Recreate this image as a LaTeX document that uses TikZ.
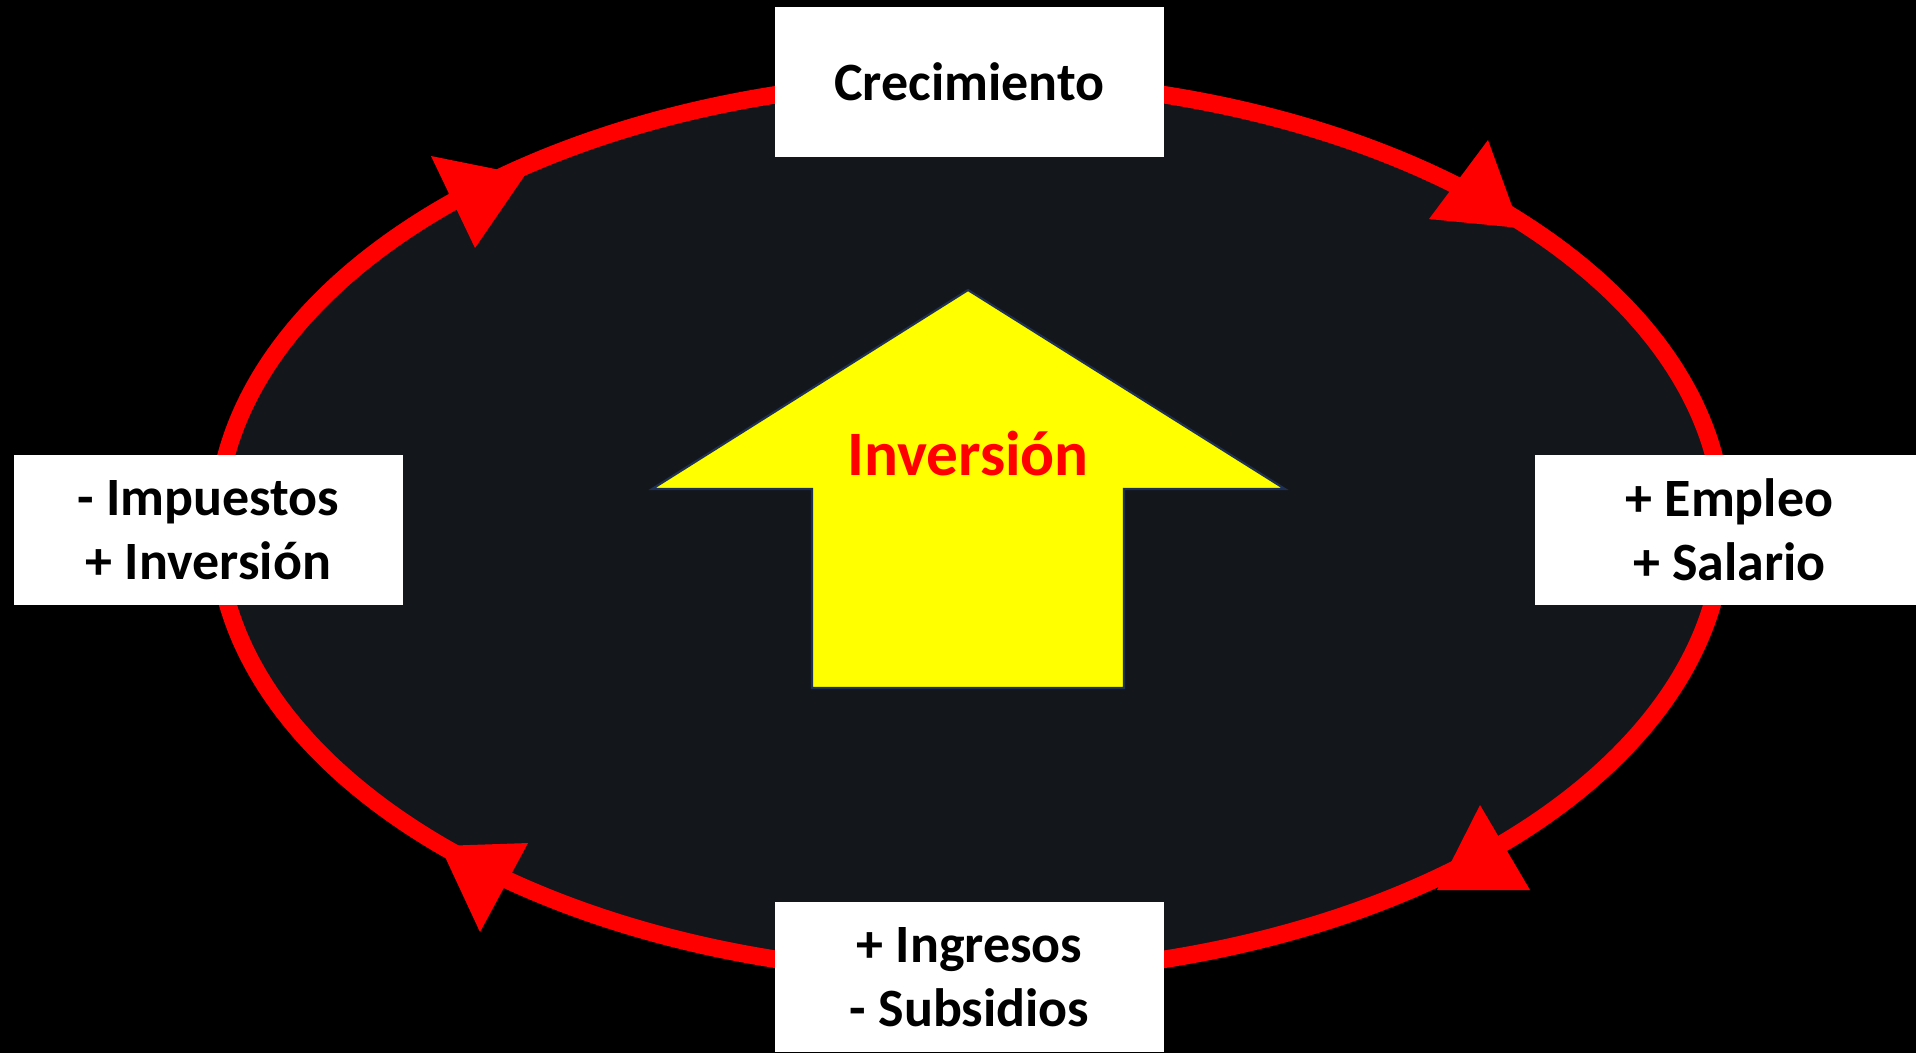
\documentclass[tikz,border=0pt]{standalone}
\usepackage{fontspec}
\setmainfont{Carlito}
\definecolor{inner}{HTML}{13161B}
\definecolor{ringred}{HTML}{FF0000}
\definecolor{arrowline}{HTML}{1F3055}
\definecolor{yel}{HTML}{FFFF00}
\tikzset{
  labelbox/.style={fill=white, draw=none, minimum width=3.89cm, minimum height=1.50cm,
    inner sep=0pt, align=center, text=black,
    font=\fontsize{15.35pt}{18.2pt}\selectfont\bfseries},
  headtri/.style={fill=ringred, draw=none},
}
\begin{document}
\begin{tikzpicture}[x=0.01cm,y=-0.01cm]
\useasboundingbox (0,0) rectangle (1916,1053);
\clip (0,0) rectangle (1916,1053);
\fill[black] (0,0) rectangle (1916,1053);
% ring
\filldraw[fill=inner, draw=ringred, line width=0.175cm] (970,527) ellipse [x radius=7.53cm, y radius=4.47cm];
% arrowheads on the ring
\fill[headtri] (525,175) -- (431,156) -- (475,248) -- cycle;
\fill[headtri] (1520,228) -- (1488,140) -- (1429,219) -- cycle;
\fill[headtri] (1437,890) -- (1480,805) -- (1530,890) -- cycle;
\fill[headtri] (440,846) -- (528,843) -- (480,932) -- cycle;
% central up arrow
\filldraw[fill=yel, draw=arrowline, line width=0.6pt, line join=miter]
  (968,290) -- (1285,489) -- (1124,489) -- (1124,688) -- (812,688) -- (812,489) -- (652,489) -- cycle;
\node[anchor=base, inner sep=0pt, text=ringred, font=\fontsize{18pt}{21pt}\selectfont\bfseries] (inv) at (968,475) {Inversión};
% boxes
\node[labelbox] (top) at (969.5,82) {Crecimiento};
\node[labelbox] (left) at (208.5,530) {- Impuestos\\+ Inversión};
\node[labelbox] (right) at (1729.5,530) {+ Empleo\\+ Salario};
\node[labelbox] (bottom) at (969.5,977) {+ Ingresos\\- Subsidios};
\end{tikzpicture}
\end{document}
